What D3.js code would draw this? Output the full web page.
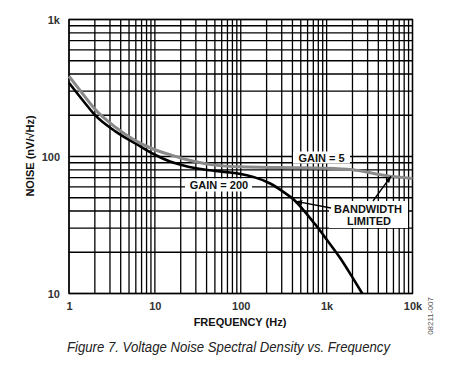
<!DOCTYPE html>
<html>
<head>
<meta charset="utf-8">
<script src="https://cdn.jsdelivr.net/npm/d3@7"></script>
<style>
  body { margin: 0; background: #fff; }
  text { font-family: "Liberation Sans", Arial, sans-serif; }
</style>
</head>
<body>
<div class="canvas"></div>
<script>
// chart data
const gain5Freq = [1, 1.5, 2, 3.5, 6, 10, 15, 20, 30, 50, 100, 300, 1000, 2000, 5000, 10000];
const gain5Noise = [385, 278, 222, 163, 130, 112, 103, 97.5, 91.5, 86.5, 84, 83, 82, 80, 72.5, 69];

const gain200Freq = [1, 1.5, 2, 3.5, 6, 10, 15, 20, 30, 50, 75, 100, 140, 220, 316, 413, 540, 706, 850, 1000, 1450, 2000, 2600];
const gain200Noise = [345, 250, 201, 152, 124, 103, 92, 87, 82, 78.5, 76.5, 74.5, 71, 63.5, 55, 48.5, 40.5, 33, 28.5, 24.8, 18, 13.1, 10];

const xTickValues = [1, 10, 100, 1000, 10000];
const xTickLabels = ['1', '10', '100', '1k', '10k'];
const yTickValues = [10, 100, 1000];
const yTickLabels = ['10', '100', '1k'];

let dims, svg, graph, x, y, line;

// Init dimensions
const initDims = () => {
    dims = {width: 460, height: 375, left: 69, right: 412.5, top: 19.5, bottom: 293.5};
};

// svg container
const initSvg = () => {
    svg = d3.select('.canvas')
        .append('svg')
        .attr('width', dims.width)
        .attr('height', dims.height);

    graph = svg.append('g');

    // arrow head
    svg.append('defs').append('marker')
        .attr('id', 'arrow')
        .attr('viewBox', '0 0 10 10')
        .attr('refX', 9).attr('refY', 5)
        .attr('markerWidth', 7).attr('markerHeight', 7)
        .attr('markerUnits', 'userSpaceOnUse')
        .attr('orient', 'auto')
        .append('path')
        .attr('d', 'M0,1.5 L10,5 L0,8.5 Z')
        .attr('fill', '#000');
};

// log scales
const initScales = () => {
    x = d3.scaleLog().domain([1, 10000]).range([dims.left, dims.right]);
    y = d3.scaleLog().domain([10, 1000]).range([dims.bottom, dims.top]);

    line = d3.line()
        .x(d => x(d[0]))
        .y(d => y(d[1]))
        .curve(d3.curveMonotoneX);
};

// grid lines
const drawGrid = () => {
    const grid = graph.append('g')
        .attr('stroke', '#000')
        .attr('stroke-width', 1.3);

    grid.selectAll('.vline')
        .data(x.ticks())
        .enter().append('line')
        .attr('x1', d => x(d)).attr('x2', d => x(d))
        .attr('y1', dims.top).attr('y2', dims.bottom);

    grid.selectAll('.hline')
        .data(y.ticks())
        .enter().append('line')
        .attr('y1', d => y(d)).attr('y2', d => y(d))
        .attr('x1', dims.left).attr('x2', dims.right);

    grid.append('rect')
        .attr('x', dims.left).attr('y', dims.top)
        .attr('width', dims.right - dims.left)
        .attr('height', dims.bottom - dims.top)
        .attr('fill', 'none');
};

// axes tick labels and titles
const drawAxes = () => {
    const xAxis = d3.axisBottom(x)
        .tickValues(xTickValues)
        .tickFormat((d, i) => xTickLabels[i])
        .tickSize(0)
        .tickPadding(9);

    const yAxis = d3.axisLeft(y)
        .tickValues(yTickValues)
        .tickFormat((d, i) => yTickLabels[i])
        .tickSize(0)
        .tickPadding(9);

    const gx = svg.append('g')
        .attr('transform', `translate(0, ${dims.bottom})`)
        .call(xAxis);
    const gy = svg.append('g')
        .attr('transform', `translate(${dims.left}, 0)`)
        .call(yAxis);

    [gx, gy].forEach(g => {
        g.select('.domain').remove();
        g.selectAll('text')
            .attr('font-family', '"Liberation Sans", Arial, sans-serif')
            .attr('font-size', 11)
            .attr('font-weight', 'bold')
            .attr('fill', '#333');
    });

    svg.append('text')
        .attr('x', 240).attr('y', 326)
        .attr('text-anchor', 'middle')
        .attr('font-size', 11).attr('font-weight', 'bold')
        .attr('fill', '#111')
        .text('FREQUENCY (Hz)');

    svg.append('text')
        .attr('transform', 'translate(34, 156) rotate(-90)')
        .attr('text-anchor', 'middle')
        .attr('font-size', 11).attr('font-weight', 'bold')
        .attr('fill', '#111')
        .text('NOISE (nV/\u221AHz)');

    // caption
    svg.append('text')
        .attr('x', 67).attr('y', 352)
        .attr('font-size', 14).attr('font-style', 'italic')
        .attr('textLength', 323).attr('lengthAdjust', 'spacingAndGlyphs')
        .attr('fill', '#222')
        .text('Figure 7. Voltage Noise Spectral Density vs. Frequency');

    // figure id
    svg.append('text')
        .attr('transform', 'translate(433, 316) rotate(-90)')
        .attr('text-anchor', 'middle')
        .attr('font-size', 8)
        .attr('fill', '#555')
        .text('08211-007');
};

// noise curves
const drawCurves = () => {
    graph.append('path')
        .datum(d3.zip(gain200Freq, gain200Noise))
        .attr('d', line)
        .attr('fill', 'none')
        .attr('stroke', '#000')
        .attr('stroke-width', 2.6);

    graph.append('path')
        .datum(d3.zip(gain5Freq, gain5Noise))
        .attr('d', line)
        .attr('fill', 'none')
        .attr('stroke', '#8a8a8a')
        .attr('stroke-width', 3);
};

// boxed labels and arrows
const drawLabels = () => {
    const box = (x0, y0, w, h) => graph.append('rect')
        .attr('x', x0).attr('y', y0).attr('width', w).attr('height', h)
        .attr('fill', '#fff');

    const label = (tx, ty, str) => graph.append('text')
        .attr('x', tx).attr('y', ty)
        .attr('text-anchor', 'middle')
        .attr('dominant-baseline', 'central')
        .attr('font-size', 11).attr('font-weight', 'bold')
        .attr('fill', '#111')
        .text(str);

    box(293, 151.5, 57, 12);
    label(321.5, 158, 'GAIN = 5');

    box(185, 178.5, 67, 13);
    label(219, 185, 'GAIN = 200');

    box(329, 201, 79, 27);
    label(368, 208.5, 'BANDWIDTH');
    label(369, 221, 'LIMITED');

    const arrow = (x1, y1, x2, y2) => graph.append('line')
        .attr('x1', x1).attr('y1', y1).attr('x2', x2).attr('y2', y2)
        .attr('stroke', '#000').attr('stroke-width', 1.4)
        .attr('marker-end', 'url(#arrow)');

    arrow(331, 208, x(440), y(47));
    arrow(373, 201, x(5600), y(71.5));
};

const init = () => {
    initDims();
    initSvg();
    initScales();
    drawGrid();
    drawCurves();
    drawLabels();
    drawAxes();
};

init();
</script>
</body>
</html>
